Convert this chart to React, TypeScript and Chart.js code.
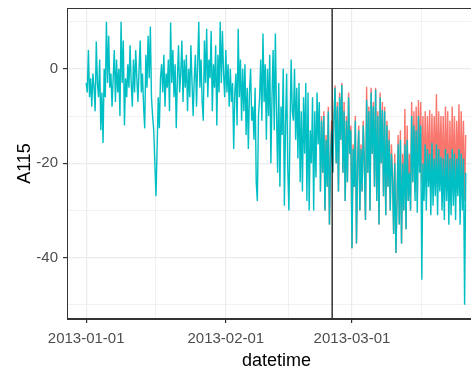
import React, { useEffect, useRef } from 'react';
import { Chart, registerables } from 'chart.js';

Chart.register(...registerables);

// Time axis: days since 2013-01-01, samples every 6 hours
const START_DAY = 0;
const STEP_DAYS = 0.25;

// Series shown in cyan (A115), 6-hourly from 2013-01-01
const CYAN_VALUES = [
  -3, -5, 4, -6,
  -2, -8, -1, -4,
  -9, 5.8, -3, -6,
  2, -13, -5, -15.7,
  0, -6, 10, -3,
  7, -4, -1, -8,
  -2, 4, -7, 2,
  -5, 0, -10, 10,
  -3, 6, -12, -2,
  -6, 1, -4, 5,
  -3, -8, 2, -5,
  4, -2, -7, 0,
  6, -5, -1, -8,
  -12.6, 3, -4, 7,
  -2, 9, -6, -10,
  -13, -20, -27, -17,
  -6, -12.6, -2, 1,
  -5, 3, -8, -1,
  -4, 2, -9, 9.8,
  -3, 4, -6, 1,
  -12.6, -2, 5, -5,
  -1, 6, -7, 2,
  -4, 3, -9, 0,
  -6, 5, -3, -10,
  -2, 3, -8, 1,
  10, -4, 2, -7,
  -11, 6, -3, 8.5,
  -6, 2, -2, 8,
  -9, 1, -4, 5,
  -12, 3, -5, 10,
  -3, 8, -1, -6,
  4, -5, 1, -8,
  0, -7, -3, -17,
  -5, -1, -12, 8.5,
  -6, 2, -11, 0,
  -9, 1, -14, -4,
  -17, -5, 0, -11,
  -8, -15, -4, -24,
  -28, -10, -6, 2,
  -11, 7.5, -7, 1,
  -15, 0, -10, 3,
  -20, -6, 4, -13,
  7.5, -9, -22, -3,
  -25, -8, -14, 0,
  -29, -12, -1, -21,
  -30, -13, 2, -9,
  -11, 0, -15, -4,
  -19, -3, -24, -9,
  -26, -6, -18, -3,
  -28, -5, -30, -13,
  -20, -6, -30, -9,
  -23, -5, -16, -7,
  -26, -11, -22, -10,
  -30, -15, -25, -9,
  -33, -19, -13, -22,
  -11, -4, -20, -8,
  -26, -6, -15, -3.4,
  -22, -9, -28, -11,
  -24, -6, -18, -13,
  -38, -17, -25, -11,
  -37, -20, -13, -30,
  -17, -26, -12, -20,
  -32, -6.6, -22, -9,
  -30, -5, -18, -8,
  -25, -4.4, -28, -10,
  -33, -6, -20, -8.7,
  -27, -9, -31, -12,
  -25, -15, -30, -18,
  -23, -35, -20, -39,
  -28, -16, -33, -15,
  -37, -20, -30, -16,
  -34, -15, -28, -22,
  -30, -10, -24, -12,
  -28, -13, -30.5, -10,
  -22, -12, -44.7, -20,
  -28, -16, -30, -17,
  -25, -18, -31, -15.7,
  -29, -19, -27, -16,
  -31, -17, -26, -18.6,
  -30, -19, -32, -17,
  -28, -18, -33, -19,
  -31, -17, -29, -18,
  -32, -19, -27, -17,
  -33, -18, -30, -19,
  -50, -22,
];

// Series shown in red, 6-hourly from day 52 (2013-02-22)
const RED_START_DAY = 52;
const RED_VALUES = [
  -26, -10, -22, -9,
  -30, -14, -25, -8,
  -33, -18, -11, -22,
  -10, -3.5, -20, -7,
  -26, -5, -15, -3,
  -22, -7, -28, -10,
  -24, -5, -18, -12,
  -38, -16, -25, -10,
  -37, -20, -12, -30,
  -16, -26, -11, -20,
  -32, -3.8, -22, -8,
  -30, -4, -18, -7,
  -25, -4, -28, -9,
  -33, -5, -20, -7,
  -27, -8, -31, -11,
  -25, -13, -30, -16,
  -22, -35, -18, -39,
  -28, -14, -33, -13,
  -37, -18, -30, -8.5,
  -34, -12, -28, -18,
  -30, -7, -24, -9,
  -26, -8, -28, -6.6,
  -20, -7, -24, -10,
  -24, -9, -25, -10,
  -22, -8.7, -26, -9.5,
  -24, -10, -23, -5.4,
  -25, -9, -22, -10,
  -24, -10, -26, -8,
  -23, -9, -27, -11,
  -25, -8, -24, -10,
  -26, -11, -22, -7.5,
  -27, -9, -24, -11,
  -28, -14,
];

const VLINE_DAY = 54.6;

const X_MIN = -4.25;
const X_MAX = 88.75;
const X_MAJOR_DAYS = [0, 31, 59];
const X_MAJOR_LABELS = ['2013-01-01', '2013-02-01', '2013-03-01'];
const X_MINOR_DAYS = [15.5, 45, 74.5];

const Y_MIN = -53;
const Y_MAX = 12.9;
const Y_MAJOR = [-40, -20, 0];
const Y_MINOR = [-50, -30, -10, 10];

const FONT = '"Liberation Sans", Arial, sans-serif';

export default function App() {
  const ref = useRef<HTMLCanvasElement>(null);

  useEffect(() => {
    if (!ref.current) return;
    const cyan = CYAN_VALUES.map((v, i) => ({ x: START_DAY + i * STEP_DAYS, y: v }));
    const red = RED_VALUES.map((v, i) => ({ x: RED_START_DAY + i * STEP_DAYS, y: v }));

    const framePlugin = {
      id: 'frame',
      afterDatasetsDraw(chart: any) {
        const { ctx, chartArea: a, scales } = chart;
        const vx = scales.x.getPixelForValue(VLINE_DAY);
        ctx.save();
        ctx.strokeStyle = '#000000';
        ctx.lineWidth = 1.2;
        ctx.beginPath();
        ctx.moveTo(vx, a.top);
        ctx.lineTo(vx, a.bottom);
        ctx.stroke();
        ctx.strokeStyle = '#333333';
        ctx.lineWidth = 1;
        ctx.strokeRect(a.left + 0.5, a.top + 0.5, a.right - a.left - 1, a.bottom - a.top - 1);
        ctx.restore();
      },
    };

    const chart = new Chart(ref.current, {
      type: 'line',
      data: {
        datasets: [
          {
            data: cyan,
            borderColor: '#00BFC4',
            borderWidth: 1.4,
            pointRadius: 0,
            tension: 0,
          },
          {
            data: red,
            borderColor: '#F8766D',
            borderWidth: 1.4,
            pointRadius: 0,
            tension: 0,
          },
        ],
      },
      options: {
        animation: false,
        responsive: false,
        devicePixelRatio: 1,
        layout: { padding: { top: 8, right: 4, bottom: 0, left: 0 } },
        plugins: { legend: { display: false }, tooltip: { enabled: false } },
        scales: {
          x: {
            type: 'linear',
            min: X_MIN,
            max: X_MAX,
            afterBuildTicks: (s: any) => {
              s.ticks = [...X_MAJOR_DAYS, ...X_MINOR_DAYS]
                .sort((a, b) => a - b)
                .map((v) => ({ value: v }));
            },
            afterFit: (s: any) => {
              s.height = 51;
              s.paddingLeft = 0;
              s.paddingRight = 0;
            },
            ticks: {
              autoSkip: false,
              maxRotation: 0,
              minRotation: 0,
              padding: 7,
              color: '#4D4D4D',
              font: { family: FONT, size: 15 },
              callback: (v: any) => {
                const i = X_MAJOR_DAYS.indexOf(Number(v));
                return i >= 0 ? X_MAJOR_LABELS[i] : '';
              },
            },
            grid: {
              color: '#EBEBEB',
              lineWidth: (c: any) => (X_MAJOR_DAYS.includes(c.tick?.value) ? 1.2 : 0.7),
              tickColor: (c: any) => (X_MAJOR_DAYS.includes(c.tick?.value) ? '#333333' : 'rgba(0,0,0,0)'),
              tickLength: 4,
              drawTicks: true,
            },
            border: { display: true, color: '#333333', width: 1 },
            title: {
              display: true,
              text: 'datetime',
              color: '#000000',
              font: { family: FONT, size: 18, lineHeight: 1 },
              padding: { top: 0, bottom: 0 },
            },
          },
          y: {
            type: 'linear',
            min: Y_MIN,
            max: Y_MAX,
            afterBuildTicks: (s: any) => {
              s.ticks = [...Y_MAJOR, ...Y_MINOR]
                .sort((a, b) => a - b)
                .map((v) => ({ value: v }));
            },
            afterFit: (s: any) => {
              s.width = 67;
              s.paddingTop = 0;
              s.paddingBottom = 0;
            },
            ticks: {
              autoSkip: false,
              padding: 5,
              color: '#4D4D4D',
              font: { family: FONT, size: 15 },
              callback: (v: any) => (Y_MAJOR.includes(Number(v)) ? String(v) : ''),
            },
            grid: {
              color: '#EBEBEB',
              lineWidth: (c: any) => (Y_MAJOR.includes(c.tick?.value) ? 1.2 : 0.7),
              tickColor: (c: any) => (Y_MAJOR.includes(c.tick?.value) ? '#333333' : 'rgba(0,0,0,0)'),
              tickLength: 4,
              drawTicks: true,
            },
            border: { display: true, color: '#333333', width: 1 },
            title: {
              display: true,
              text: 'A115',
              color: '#000000',
              font: { family: FONT, size: 18, lineHeight: 1 },
              padding: { top: 16, bottom: 0 },
            },
          },
        },
      },
      plugins: [framePlugin],
    } as any);

    return () => chart.destroy();
  }, []);

  return (
    <div
      style={{
        position: 'fixed',
        left: 0,
        top: 0,
        width: 471,
        height: 370,
        overflow: 'hidden',
        background: '#ffffff',
      }}
    >
      <canvas ref={ref} width={490} height={370} style={{ display: 'block', width: 490, height: 370 }} />
    </div>
  );
}
